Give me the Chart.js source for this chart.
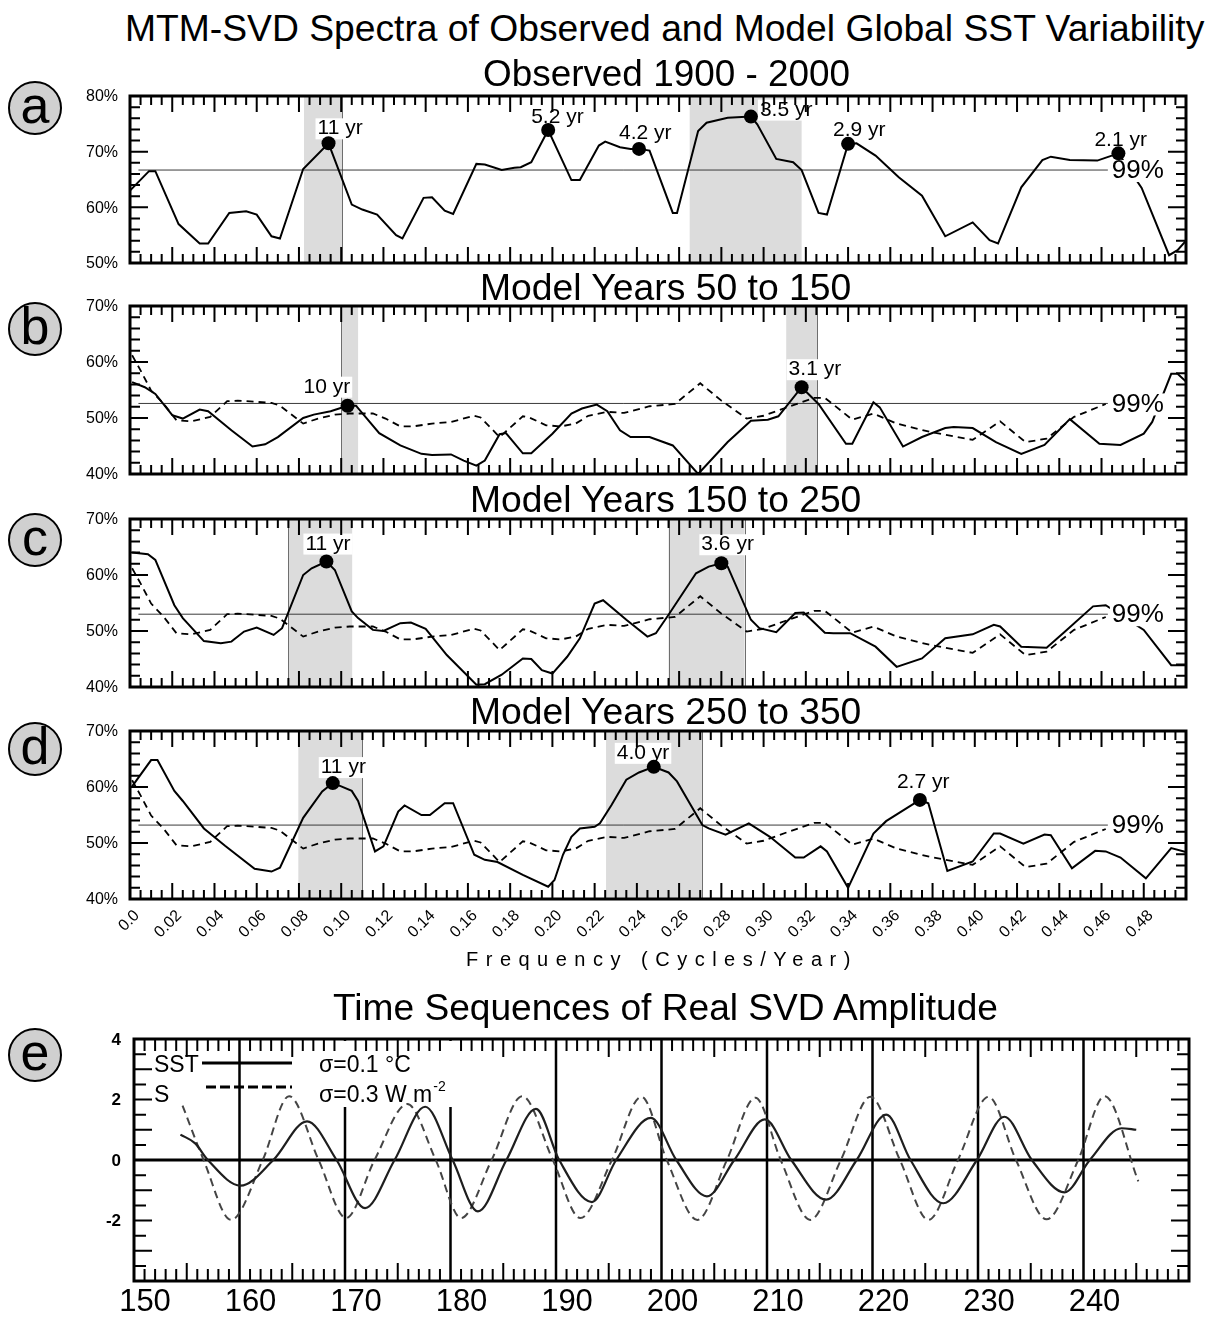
<!DOCTYPE html>
<html>
<head>
<meta charset="utf-8">
<script src="https://cdn.jsdelivr.net/npm/chart.js@4.4.0/dist/chart.umd.min.js"></script>
<style>
  body { margin: 0; background: #fff; width: 1211px; height: 1317px; position: relative; overflow: hidden;
         font-family: "Liberation Sans", Arial, Helvetica, sans-serif; }
  canvas { position: absolute; left: 0; }
  .ttl { position: absolute; white-space: nowrap; font-size: 36px; line-height: 36px; transform-origin: 0 0; color: #000; }
  .tag { position: absolute; width: 50px; height: 50px; border: 2px solid #000; border-radius: 50%; background: #d0d0d0;
         font-size: 52px; line-height: 44px; text-align: center; color: #000; }
  #xlab { position: absolute; left: 466px; top: 949px; font-size: 20px; line-height: 20px; letter-spacing: 7.5px; white-space: nowrap; }
</style>
</head>
<body>
<canvas id="panelA"></canvas>
<canvas id="panelB"></canvas>
<canvas id="panelC"></canvas>
<canvas id="panelD"></canvas>
<canvas id="panelE"></canvas>
<div id="xlab">Frequency (Cycles/Year)</div>
<script>
const FF = '"Liberation Sans", Arial, Helvetica, sans-serif';

// ---------- tick labels ----------
const freqTicks = ['0.0','0.02','0.04','0.06','0.08','0.10','0.12','0.14','0.16','0.18','0.20','0.22','0.24',
                   '0.26','0.28','0.30','0.32','0.34','0.36','0.38','0.40','0.42','0.44','0.46','0.48'];
const pctTicksA = [50, 60, 70, 80];
const pctTicksM = [40, 50, 60, 70];
const yearTicks = [150, 160, 170, 180, 190, 200, 210, 220, 230, 240];
const ampTicks = [4, 2, 0, -2];

// ---------- (a) observed 1900-2000 ----------
const freqA = [0.000,0.009,0.012,0.023,0.033,0.037,0.047,0.055,0.060,0.067,0.071,0.082,0.094,0.105,0.110,0.117,0.126,0.129,
  0.139,0.143,0.149,0.153,0.164,0.168,0.176,0.182,0.185,0.190,0.198,0.209,0.213,0.222,0.225,0.232,0.237,0.241,0.246,0.257,
  0.259,0.269,0.273,0.283,0.294,0.297,0.306,0.314,0.318,0.326,0.330,0.340,0.344,0.353,0.364,0.375,0.386,0.399,0.407,0.411,
  0.422,0.432,0.436,0.445,0.458,0.468,0.479,0.492,0.496,0.500];
const obsA = [63.0,66.5,66.5,57.0,53.5,53.5,59.0,59.3,58.7,54.8,54.4,66.9,71.5,60.5,59.6,58.7,55.0,54.4,
  61.7,61.8,59.4,58.8,67.8,67.7,66.7,67.1,67.2,68.1,73.9,64.9,64.9,71.1,71.8,70.8,70.5,70.5,70.2,59.0,
  59.0,73.7,75.2,76.1,76.3,74.9,68.7,68.1,66.7,59.0,58.7,71.4,71.5,69.3,65.4,62.1,54.8,57.3,54.1,53.5,
  63.6,68.5,69.1,68.5,68.4,69.7,63.5,51.4,52.3,54.0];
const peakFreqA = [0.094, 0.198, 0.241, 0.294, 0.340, 0.468];
const peakValA = [71.5, 73.9, 70.5, 76.3, 71.4, 69.7];
const peakTextA = ['11 yr', '5.2 yr', '4.2 yr', '3.5 yr', '2.9 yr', '2.1 yr'];
const shadeA = [[0.0824, 0.1004], [0.265, 0.318]];
const edgeA = [0.1004];

// ---------- common dashed curve (b, c, d) ----------
const freqN = [0.001,0.005,0.010,0.016,0.022,0.029,0.038,0.046,0.051,0.067,0.071,0.082,0.089,0.097,0.104,0.115,0.121,
  0.128,0.134,0.143,0.152,0.163,0.166,0.175,0.186,0.189,0.197,0.204,0.211,0.217,0.226,0.234,0.246,0.258,0.270,0.280,
  0.292,0.300,0.311,0.324,0.329,0.342,0.352,0.363,0.379,0.399,0.412,0.424,0.434,0.447,0.462];
const noiseN = [61.2,58.5,54.9,52.5,49.6,49.4,50.2,53.0,53.1,52.7,52.2,49.0,49.9,50.6,50.8,50.8,49.9,
  48.5,48.5,49.0,49.3,50.4,50.1,46.6,50.3,50.1,48.7,48.5,49.0,50.4,51.1,50.9,52.1,52.5,56.2,53.1,
  49.9,50.4,51.9,53.6,53.6,49.7,50.8,49.0,47.5,46.1,49.4,45.7,46.3,50.2,52.5];

// ---------- (b) model years 50-150 ----------
const freqB = [0.001,0.007,0.012,0.020,0.025,0.033,0.037,0.048,0.058,0.064,0.070,0.082,0.087,0.095,0.103,0.107,0.118,
  0.128,0.138,0.143,0.152,0.158,0.164,0.168,0.175,0.178,0.186,0.190,0.200,0.209,0.214,0.221,0.226,0.232,0.237,0.246,
  0.257,0.269,0.283,0.294,0.302,0.307,0.318,0.326,0.339,0.342,0.352,0.355,0.366,0.375,0.386,0.390,0.399,0.410,0.422,
  0.433,0.445,0.459,0.469,0.480,0.484,0.493,0.496,0.500];
const modelB = [56.4,55.5,54.3,50.5,49.9,51.5,51.2,47.8,44.9,45.3,46.6,50.0,50.6,51.2,52.2,52.2,47.3,
  45.1,43.6,43.4,43.5,42.4,41.5,42.4,47.1,47.3,43.7,43.7,47.2,50.8,51.7,52.4,51.2,47.8,46.6,46.6,
  45.1,40.0,45.7,49.5,49.7,50.3,55.5,52.5,45.4,45.4,52.8,51.9,44.9,46.6,48.2,48.4,48.2,45.7,43.6,
  45.2,49.8,45.4,45.2,47.2,49.3,57.9,57.9,56.5];
const peakFreqB = [0.103, 0.318];
const peakValB = [52.2, 55.5];
const peakTextB = ['10 yr', '3.1 yr'];
const shadeB = [[0.1001, 0.108], [0.3107, 0.3254]];
const edgeB = [0.1001, 0.3254];

// ---------- (c) model years 150-250 ----------
const freqC = [0.001,0.0085,0.012,0.021,0.025,0.035,0.043,0.048,0.054,0.060,0.068,0.072,0.082,0.086,0.093,0.097,0.105,
  0.108,0.115,0.120,0.128,0.133,0.140,0.150,0.164,0.168,0.176,0.186,0.190,0.195,0.200,0.207,0.213,0.220,0.224,0.235,
  0.245,0.249,0.255,0.268,0.274,0.280,0.283,0.294,0.298,0.306,0.315,0.319,0.329,0.333,0.341,0.353,0.363,0.375,0.386,
  0.399,0.409,0.412,0.422,0.434,0.443,0.456,0.462,0.480,0.493,0.500];
const modelC = [64.0,63.7,62.7,54.6,52.3,48.2,47.8,48.1,49.9,50.6,49.3,50.5,60.0,61.2,62.4,60.9,53.5,
  52.3,50.2,50.0,51.4,51.5,50.4,45.7,40.4,40.5,42.2,45.1,45.0,43.0,42.4,45.4,48.7,54.9,55.5,52.0,
  49.0,49.6,52.9,60.3,61.5,62.1,61.5,52.0,50.5,49.8,53.2,53.3,49.7,49.6,49.6,47.2,43.6,45.1,48.7,
  49.4,51.1,50.8,47.2,47.0,50.0,54.4,54.6,50.2,43.9,43.9];
const peakFreqC = [0.093, 0.280];
const peakValC = [62.4, 62.1];
const peakTextC = ['11 yr', '3.6 yr'];
const shadeC = [[0.0748, 0.1052], [0.255, 0.291]];
const edgeC = [0.0748, 0.255, 0.291];

// ---------- (d) model years 250-350 ----------
const freqD = [0.001,0.010,0.013,0.021,0.025,0.035,0.045,0.059,0.067,0.071,0.082,0.091,0.096,0.100,0.105,0.108,0.116,
  0.120,0.127,0.130,0.138,0.142,0.149,0.153,0.163,0.168,0.174,0.186,0.198,0.201,0.205,0.209,0.213,0.220,0.2225,0.228,
  0.235,0.241,0.248,0.255,0.259,0.265,0.271,0.274,0.282,0.293,0.303,0.315,0.319,0.327,0.330,0.340,0.352,0.358,0.374,
  0.378,0.387,0.399,0.409,0.412,0.423,0.433,0.436,0.446,0.457,0.462,0.469,0.481,0.493,0.500];
const modelD = [60.1,64.8,64.8,59.3,57.5,52.6,49.5,45.4,44.9,45.6,54.5,59.2,60.7,60.1,59.3,57.5,48.5,
  49.4,55.6,56.7,55.0,55.0,57.1,57.1,47.9,47.0,46.6,44.3,42.2,43.4,47.9,51.1,52.6,52.9,53.5,56.8,
  61.3,62.6,63.6,62.6,61.0,57.1,53.2,52.6,51.5,53.5,51.1,47.4,47.4,49.4,48.5,42.0,51.7,53.9,57.7,
  57.1,45.0,46.7,51.7,51.7,49.9,51.5,51.4,45.5,48.6,48.5,47.4,43.7,49.1,48.4];
const peakFreqD = [0.096, 0.248, 0.374];
const peakValD = [60.7, 63.6, 57.7];
const peakTextD = ['11 yr', '4.0 yr', '2.7 yr'];
const shadeD = [[0.0797, 0.110], [0.2254, 0.2708]];
const edgeD = [0.110, 0.2708];

// 99% significance levels and their extent
const sig99 = [66.7, 52.6, 53.0, 53.2];
const sigFreq = [0.004, 0.463];

// ---------- (e) time sequences ----------
const sstYears = [154.4,155.8,157.0,160.1,163.2,166.4,169.2,171.9,174.7,177.6,180.2,182.6,185.3,188.1,190.3,193.4,
  195.7,199.0,201.4,204.3,206.9,209.8,212.3,215.6,218.5,221.3,223.6,226.7,229.9,232.5,235.1,238.2,240.6,243.6,245.0];
const sstAmp = [0.84,0.55,0,-0.85,0,1.28,0,-1.59,0,1.76,0,-1.70,0,1.69,0,-1.39,
  0,1.39,0,-1.20,0,1.34,0,-1.31,0,1.50,0,-1.43,0,1.43,0,-1.07,0,1.05,1.00];
const sYears = [154.6,156.6,159.2,162.2,164.7,167.5,170.1,172.8,175.9,178.6,181.0,183.9,186.8,189.7,192.3,195.3,
  198.1,200.5,203.4,206.2,208.9,211.3,214.1,217.0,219.8,222.6,225.3,228.1,231.0,233.6,236.5,239.5,242.0,245.2];
const sAmp = [1.80,0,-1.98,0,2.11,0,-1.92,0,1.85,0,-1.92,0,2.11,0,-1.92,0,
  2.09,0,-1.98,0,2.06,0,-1.98,0,2.09,0,-1.98,0,2.09,0,-1.96,0,2.11,-0.71];

function xy(xs, ys) { return xs.map((x, i) => ({ x: x, y: ys[i] })); }

// ---------- titles and panel tags ----------
const titleSpecs = [
  ['MTM-SVD Spectra of Observed and Model Global SST Variability', 125, 1205, 41],
  ['Observed 1900 - 2000', 483, 850, 86],
  ['Model Years 50 to 150', 480, 852, 300],
  ['Model Years 150 to 250', 470, 862, 512],
  ['Model Years 250 to 350', 470, 862, 724],
  ['Time Sequences of Real SVD Amplitude', 333, 1000, 1020]
];
const mctx = document.createElement('canvas').getContext('2d');
mctx.font = '36px ' + FF;
titleSpecs.forEach(t => {
  const d = document.createElement('div');
  d.className = 'ttl';
  d.textContent = t[0];
  const w = mctx.measureText(t[0]).width;
  d.style.left = t[1] + 'px';
  d.style.top = (t[3] - 30.5) + 'px';
  d.style.transform = 'scaleX(' + ((t[2] - t[1]) / w).toFixed(4) + ')';
  document.body.appendChild(d);
});
[['a', 108], ['b', 329], ['c', 540], ['d', 749], ['e', 1055]].forEach(t => {
  const d = document.createElement('div');
  d.className = 'tag';
  d.textContent = t[0];
  d.style.left = (35 - 27) + 'px';
  d.style.top = (t[1] - 27) + 'px';
  document.body.appendChild(d);
});

// ---------- spectrum panels ----------
function spectrumDecor(p) {
  return {
    id: 'decor',
    beforeDatasetsDraw(chart) {
      const ctx = chart.ctx, a = chart.chartArea, x = chart.scales.x, y = chart.scales.y;
      ctx.save();
      ctx.fillStyle = '#dcdcdc';
      p.shades.forEach(s => {
        const x0 = x.getPixelForValue(s[0]), x1 = x.getPixelForValue(s[1]);
        ctx.fillRect(x0, a.top, x1 - x0, a.bottom - a.top);
      });
      ctx.strokeStyle = '#6e6e6e';
      ctx.lineWidth = 1;
      p.edges.forEach(f => {
        const px = Math.round(x.getPixelForValue(f)) + 0.5;
        ctx.beginPath(); ctx.moveTo(px, a.top); ctx.lineTo(px, a.bottom); ctx.stroke();
      });
      // peak labels on white boxes
      ctx.font = '21px ' + FF;
      ctx.textBaseline = 'alphabetic';
      p.peakText.forEach((t, i) => {
        const px = x.getPixelForValue(p.peakF[i]) + p.labelPos[i][0];
        const py = y.getPixelForValue(p.peakV[i]) + p.labelPos[i][1];
        const w = ctx.measureText(t).width;
        ctx.fillStyle = '#fff';
        ctx.fillRect(px - 2, py - 16, w + 4, 21);
        ctx.fillStyle = '#000';
        ctx.fillText(t, px, py);
      });
      ctx.restore();
    },
    afterDatasetsDraw(chart) {
      const ctx = chart.ctx, a = chart.chartArea, x = chart.scales.x, y = chart.scales.y;
      ctx.save();
      // 99% label
      ctx.font = '26px ' + FF;
      ctx.textBaseline = 'middle';
      const lx = x.getPixelForValue(sigFreq[1]) + 4, ly = y.getPixelForValue(p.sig) + 1;
      const lw = ctx.measureText('99%').width;
      ctx.fillStyle = '#fff';
      ctx.fillRect(lx - 2, ly - 11, lw + 4, 22);
      ctx.fillStyle = '#000';
      ctx.fillText('99%', lx, ly);
      // ticks
      ctx.strokeStyle = '#000';
      ctx.lineWidth = 2;
      ctx.beginPath();
      for (let i = 0; i <= 100; i++) {
        const px = x.getPixelForValue(i * 0.005);
        const len = i % 4 === 0 ? 16 : 9;
        ctx.moveTo(px, a.top); ctx.lineTo(px, a.top + len);
        ctx.moveTo(px, a.bottom); ctx.lineTo(px, a.bottom - len);
      }
      for (let v = p.ymin; v <= p.ymax; v += 2) {
        const py = y.getPixelForValue(v);
        const len = v % 10 === 0 ? 18 : 10;
        ctx.moveTo(a.left, py); ctx.lineTo(a.left + len, py);
        ctx.moveTo(a.right, py); ctx.lineTo(a.right - len, py);
      }
      ctx.stroke();
      ctx.lineWidth = 3;
      ctx.strokeRect(a.left, a.top, a.right - a.left, a.bottom - a.top);
      // y labels
      ctx.font = '16px ' + FF;
      ctx.fillStyle = '#000';
      ctx.textAlign = 'right';
      ctx.textBaseline = 'middle';
      p.yTicks.forEach(v => ctx.fillText(v + '%', a.left - 12, y.getPixelForValue(v) + 1));
      // x labels (bottom panel only)
      if (p.showX) {
        ctx.font = '16px ' + FF;
        freqTicks.forEach((t, i) => {
          const px = x.getPixelForValue(i * 0.02);
          ctx.save();
          ctx.translate(px + 7, a.bottom + 14);
          ctx.rotate(-Math.PI / 4);
          ctx.fillText(t, 0, 0);
          ctx.restore();
        });
      }
      ctx.restore();
    }
  };
}

function spectrumPanel(p) {
  const cv = document.getElementById(p.id);
  cv.width = 1211; cv.height = p.h;
  cv.style.top = p.top + 'px';
  const ds = [
    { data: xy(p.peakF, p.peakV), showLine: false, pointRadius: 7, pointHoverRadius: 7,
      pointBackgroundColor: '#000', pointBorderColor: '#000', pointBorderWidth: 0 },
    { data: xy(p.f, p.v), showLine: true, borderColor: '#000', borderWidth: 2, pointRadius: 0 }
  ];
  if (p.dashed) {
    ds.push({ data: xy(freqN, noiseN), showLine: true, borderColor: '#000', borderWidth: 1.8,
              borderDash: [7, 5], pointRadius: 0 });
  }
  ds.push({ data: xy(sigFreq, [p.sig, p.sig]), showLine: true, borderColor: '#3a3a3a', borderWidth: 1, pointRadius: 0 });
  new Chart(cv, {
    type: 'scatter',
    data: { datasets: ds },
    options: {
      responsive: false, animation: false, devicePixelRatio: 1,
      layout: { padding: { left: 130, right: 1211 - 1186, top: p.frameTop - p.top, bottom: p.top + p.h - p.frameBottom } },
      scales: {
        x: { type: 'linear', min: 0, max: 0.5, display: false },
        y: { type: 'linear', min: p.ymin, max: p.ymax, display: false }
      },
      elements: { line: { tension: 0 } },
      plugins: { legend: { display: false }, tooltip: { enabled: false } }
    },
    plugins: [spectrumDecor(p)]
  });
}

spectrumPanel({ id: 'panelA', top: 86, h: 200, frameTop: 96, frameBottom: 263, ymin: 50, ymax: 80, yTicks: pctTicksA,
  f: freqA, v: obsA, dashed: false, sig: sig99[0], shades: shadeA, edges: edgeA,
  peakF: peakFreqA, peakV: peakValA, peakText: peakTextA,
  labelPos: [[-11, -9], [-17, -7], [-20, -10], [9, -1], [-15, -8], [-24, -7]] });
spectrumPanel({ id: 'panelB', top: 296, h: 200, frameTop: 306, frameBottom: 474, ymin: 40, ymax: 70, yTicks: pctTicksM,
  f: freqB, v: modelB, dashed: true, sig: sig99[1], shades: shadeB, edges: edgeB,
  peakF: peakFreqB, peakV: peakValB, peakText: peakTextB,
  labelPos: [[-44, -13], [-13, -12]] });
spectrumPanel({ id: 'panelC', top: 509, h: 200, frameTop: 519, frameBottom: 687, ymin: 40, ymax: 70, yTicks: pctTicksM,
  f: freqC, v: modelC, dashed: true, sig: sig99[2], shades: shadeC, edges: edgeC,
  peakF: peakFreqC, peakV: peakValC, peakText: peakTextC,
  labelPos: [[-21, -12], [-20, -13]] });
spectrumPanel({ id: 'panelD', top: 721, h: 240, frameTop: 731, frameBottom: 899, ymin: 40, ymax: 70, yTicks: pctTicksM,
  f: freqD, v: modelD, dashed: true, sig: sig99[3], shades: shadeD, edges: edgeD,
  peakF: peakFreqD, peakV: peakValD, peakText: peakTextD, showX: true,
  labelPos: [[-12, -10], [-37, -8], [-23, -12]] });

// ---------- time sequence panel ----------
const ampDecor = {
  id: 'ampDecor',
  beforeDatasetsDraw(chart) {
    const ctx = chart.ctx, a = chart.chartArea, x = chart.scales.x, y = chart.scales.y;
    ctx.save();
    ctx.strokeStyle = '#000';
    ctx.lineWidth = 2.5;
    ctx.beginPath();
    yearTicks.slice(1).forEach(yr => {
      const px = x.getPixelForValue(yr);
      ctx.moveTo(px, a.top); ctx.lineTo(px, a.bottom);
    });
    ctx.stroke();
    ctx.lineWidth = 3;
    const y0 = y.getPixelForValue(0);
    ctx.beginPath(); ctx.moveTo(a.left, y0); ctx.lineTo(a.right, y0); ctx.stroke();
    // white box behind the sigma notes
    ctx.fillStyle = '#fff';
    ctx.fillRect(a.left + 181, a.top + 2, 147, 66);
    ctx.restore();
  },
  afterDatasetsDraw(chart) {
    const ctx = chart.ctx, a = chart.chartArea, x = chart.scales.x, y = chart.scales.y;
    ctx.save();
    ctx.strokeStyle = '#000';
    ctx.lineWidth = 2;
    ctx.beginPath();
    for (let yr = 150; yr <= 250; yr++) {
      if (yr % 10 === 0 && yr > 150 && yr < 250) continue;
      const px = x.getPixelForValue(yr);
      const len = yr % 5 === 0 ? 18 : 12;
      ctx.moveTo(px, a.top); ctx.lineTo(px, a.top + len);
      ctx.moveTo(px, a.bottom); ctx.lineTo(px, a.bottom - len);
    }
    for (let k = -8; k <= 8; k++) {
      const py = y.getPixelForValue(k / 2);
      const len = k % 2 === 0 ? 18 : 12;
      ctx.moveTo(a.left, py); ctx.lineTo(a.left + len, py);
      ctx.moveTo(a.right, py); ctx.lineTo(a.right - len, py);
    }
    ctx.stroke();
    ctx.lineWidth = 3;
    ctx.strokeRect(a.left, a.top, a.right - a.left, a.bottom - a.top);
    // axis labels
    ctx.fillStyle = '#000';
    ctx.font = 'bold 17px ' + FF;
    ctx.textAlign = 'right';
    ctx.textBaseline = 'middle';
    ampTicks.forEach(v => ctx.fillText(String(v), a.left - 13, y.getPixelForValue(v) + 1));
    ctx.font = '31px ' + FF;
    ctx.textAlign = 'center';
    ctx.textBaseline = 'alphabetic';
    yearTicks.forEach(yr => ctx.fillText(String(yr), x.getPixelForValue(yr) + 11, a.bottom + 30));
    // legend
    ctx.textAlign = 'left';
    ctx.font = '23px ' + FF;
    ctx.fillText('SST', a.left + 20, a.top + 33);
    ctx.fillText('S', a.left + 20, a.top + 63);
    ctx.lineWidth = 3;
    ctx.beginPath(); ctx.moveTo(a.left + 68, a.top + 24); ctx.lineTo(a.left + 158, a.top + 24); ctx.stroke();
    ctx.setLineDash([10, 4]);
    ctx.beginPath(); ctx.moveTo(a.left + 72, a.top + 48); ctx.lineTo(a.left + 158, a.top + 48); ctx.stroke();
    ctx.setLineDash([]);
    ctx.fillText('\u03c3=0.1 \u00b0C', a.left + 185, a.top + 33);
    const s2 = '\u03c3=0.3 W m';
    ctx.fillText(s2, a.left + 185, a.top + 63);
    const w2 = ctx.measureText(s2).width;
    ctx.font = '14px ' + FF;
    ctx.fillText('-2', a.left + 186 + w2, a.top + 52);
    ctx.restore();
  }
};

(function ampPanel() {
  const cv = document.getElementById('panelE');
  cv.width = 1211; cv.height = 317;
  cv.style.top = '1000px';
  new Chart(cv, {
    type: 'scatter',
    data: {
      datasets: [
        { data: xy(sstYears, sstAmp), showLine: true, borderColor: '#1e1e1e', borderWidth: 2.2, pointRadius: 0,
          cubicInterpolationMode: 'monotone' },
        { data: xy(sYears, sAmp), showLine: true, borderColor: '#444', borderWidth: 2, pointRadius: 0,
          borderDash: [8, 5], cubicInterpolationMode: 'monotone' }
      ]
    },
    options: {
      responsive: false, animation: false, devicePixelRatio: 1,
      layout: { padding: { left: 134, right: 1211 - 1189, top: 39, bottom: 317 - 281 } },
      scales: {
        x: { type: 'linear', min: 150, max: 250, display: false },
        y: { type: 'linear', min: -4, max: 4, display: false }
      },
      plugins: { legend: { display: false }, tooltip: { enabled: false } }
    },
    plugins: [ampDecor]
  });
})();
</script>
</body>
</html>
